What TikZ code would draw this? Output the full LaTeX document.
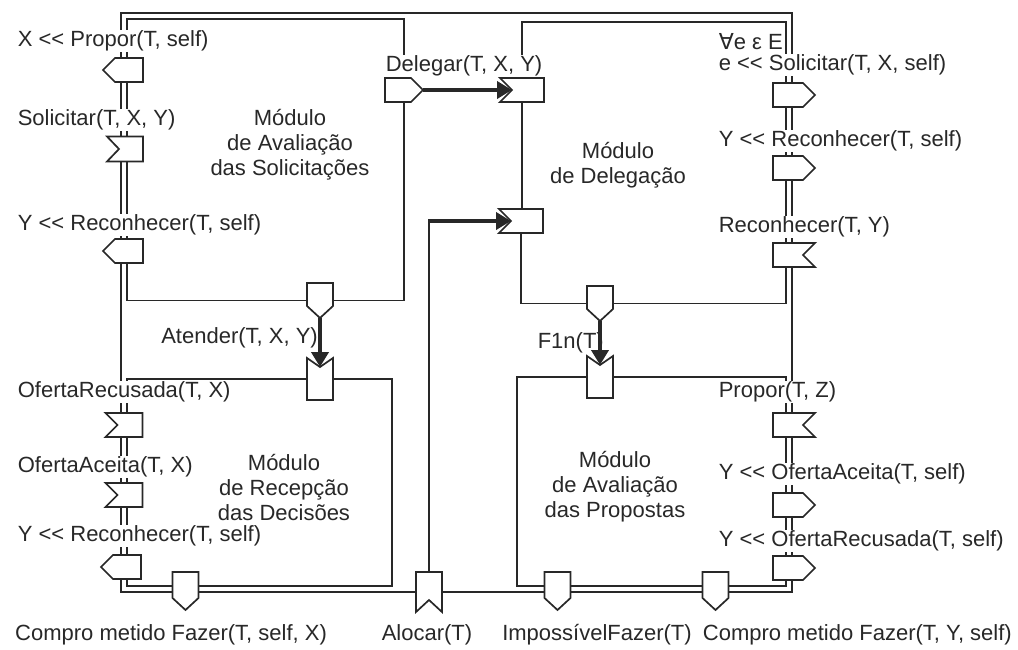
\documentclass[tikz,border=0pt]{standalone}
\usepackage{fontspec}
\setmainfont{Liberation Sans}[Ligatures=TeXOff]
\newfontfamily\symf{DejaVu Sans}
\usetikzlibrary{arrows.meta}
\pgfdeclarelayer{back}
\pgfdeclarelayer{bg}
\pgfsetlayers{back,bg,main}
\definecolor{ink}{RGB}{40,40,40}
\tikzset{
  nb/.style={inner sep=0pt,outer sep=0pt,draw=none},
  ln/.style={draw=ink,line width=1.4pt},
  shp/.style={draw=ink,fill=white,line width=1.7pt,line join=miter},
  thk/.style={draw=ink,line width=4.5pt,-{Triangle[length=15pt,width=17pt]}},
  lbl/.style={anchor=west,fill=white,inner sep=0.6pt,text=ink,font=\fontsize{22}{25}\selectfont},
  lblx/.style={text=ink,inner sep=0pt,font=\fontsize{22}{25}\selectfont},
  mod/.style={align=center,text=ink,inner sep=0pt,font=\fontsize{22}{25}\selectfont},
}
% send, pointing left
\newcommand\mySendL[4]{\node[nb,minimum width=#3pt,minimum height=#4pt] (#1) at (#2) {};
  \draw[shp] (#1.north east) -- ([xshift=12pt]#1.north west) -- (#1.west) -- ([xshift=12pt]#1.south west) -- (#1.south east) -- cycle;}
% send, pointing right
\newcommand\mySendR[4]{\node[nb,minimum width=#3pt,minimum height=#4pt] (#1) at (#2) {};
  \draw[shp] (#1.north west) -- ([xshift=-12pt]#1.north east) -- (#1.east) -- ([xshift=-12pt]#1.south east) -- (#1.south west) -- cycle;}
% receive, notch on the left
\newcommand\myRecvL[4]{\node[nb,minimum width=#3pt,minimum height=#4pt] (#1) at (#2) {};
  \draw[shp] (#1.north west) -- (#1.north east) -- (#1.south east) -- (#1.south west) -- ([xshift=12pt]#1.west) -- cycle;}
% receive, notch on the right
\newcommand\myRecvR[4]{\node[nb,minimum width=#3pt,minimum height=#4pt] (#1) at (#2) {};
  \draw[shp] (#1.north west) -- (#1.north east) -- ([xshift=-12pt]#1.east) -- (#1.south east) -- (#1.south west) -- cycle;}
% send, pointing down
\newcommand\mySendD[4]{\node[nb,minimum width=#3pt,minimum height=#4pt] (#1) at (#2) {};
  \draw[shp] (#1.north west) -- (#1.north east) -- ([yshift=12pt]#1.south east) -- (#1.south) -- ([yshift=12pt]#1.south west) -- cycle;}
% receive, notch on top
\newcommand\myRecvT[4]{\node[nb,minimum width=#3pt,minimum height=#4pt] (#1) at (#2) {};
  \draw[shp] (#1.north west) -- ([yshift=-9pt]#1.north) -- (#1.north east) -- (#1.south east) -- (#1.south west) -- cycle;}
% receive, notch at bottom
\newcommand\myRecvB[4]{\node[nb,minimum width=#3pt,minimum height=#4pt] (#1) at (#2) {};
  \draw[shp] (#1.north west) -- (#1.north east) -- (#1.south east) -- ([yshift=12pt]#1.south) -- (#1.south west) -- cycle;}

\begin{document}
\begin{tikzpicture}[x=1pt,y=-1pt]
\begin{pgfonlayer}{back}
\fill[white] (0,0) rectangle (1018,649);
\end{pgfonlayer}
\useasboundingbox (0,0) rectangle (1018,649);

\coordinate (LA) at (121,0); \coordinate (LB) at (127,0);
\coordinate (RA) at (786,0); \coordinate (RB) at (792,0);
\coordinate (topO) at (0,13); \coordinate (topI) at (0,19); \coordinate (topJ) at (0,22);
\coordinate (recX) at (392,0); \coordinate (propX) at (517,0);
\coordinate (bU) at (0,586); \coordinate (bL) at (0,592);

% left column
\mySendL{s1}{123,70}{40}{24}
\myRecvL{s2}{125,149}{36}{25}
\mySendL{s3}{123,251}{40}{24}
\myRecvL{s4}{124,425}{37}{24}
\myRecvL{s5}{124,495}{37}{24}
\mySendL{s6}{121,567}{40}{24}
% delegation
\mySendR{ds}{404,90}{38}{24}
\myRecvL{r1}{522,90}{44}{24}
\myRecvL{r2}{521,221}{44}{24}
% middle vertical shapes
\mySendD{as}{320,300.5}{26}{35}
\myRecvT{ar}{320,379}{26}{42}
\mySendD{fs}{600,303.5}{26}{35}
\myRecvT{fr}{600,377}{26}{42}
% bottom row
\mySendD{c1}{185.5,591}{26}{38}
\myRecvB{al}{429,592}{26}{40}
\mySendD{imf}{557.5,591}{26}{38}
\mySendD{c2}{715.5,591}{26}{38}
% right column
\mySendR{sr1}{794,95}{42}{24}
\mySendR{sr2}{794,168}{42}{24}
\myRecvR{sr3}{794,255}{42}{24}
\myRecvR{sr4}{794,425}{42}{24}
\mySendR{sr5}{794,505}{42}{24}
\mySendR{sr6}{794,568}{42}{24}

\coordinate (alc) at (al.north |- r2.west);

\begin{pgfonlayer}{bg}
\draw[ln] (s1.north -| LA) |- (topO -| RB) -- (sr1.north -| RB);
\draw[ln] (s1.north -| LB) |- (topI -| ds.north) -- (ds.north);
\draw[ln] (r1.north) |- (topJ -| RA) -- (sr1.north -| RA);
\draw[ln] (s1.south -| LA) -- (s2.north -| LA);
\draw[ln] (s1.south -| LB) -- (s2.north -| LB);
\draw[ln] (s2.south -| LA) -- (s3.north -| LA);
\draw[ln] (s2.south -| LB) -- (s3.north -| LB);
\draw[ln] (s3.south -| LA) -- (s4.north -| LA);
\draw[ln] (s3.south -| LB) |- (as.west);
\draw[ln] (as.east) -| (ds.south);
\draw[ln] (ar.west) -| (s4.north -| LB);
\draw[ln] (ar.east) -| (bU -| recX) -- (bU -| c1.east);
\draw[ln] (s4.south -| LA) -- (s5.north -| LA);
\draw[ln] (s4.south -| LB) -- (s5.north -| LB);
\draw[ln] (s5.south -| LA) -- (s6.north -| LA);
\draw[ln] (s5.south -| LB) -- (s6.north -| LB);
\draw[ln] (s6.south -| LB) |- (bU -| c1.west);
\draw[ln] (s6.south -| LA) |- (bL -| c1.west);
\draw[ln] (bL -| c1.east) -- (bL -| al.west);
\draw[ln] (bL -| al.east) -- (bL -| imf.west);
\draw[ln] (fr.west) -| (bU -| propX) -- (bU -| imf.west);
\draw[ln] (bU -| imf.east) -- (bU -| c2.west);
\draw[ln] (bL -| imf.east) -- (bL -| c2.west);
\draw[ln] (bU -| c2.east) -| (sr6.south -| RA);
\draw[ln] (bL -| c2.east) -| (sr6.south -| RB);
\draw[ln] (sr5.south -| RA) -- (sr6.north -| RA);
\draw[ln] (sr5.south -| RB) -- (sr6.north -| RB);
\draw[ln] (sr4.south -| RA) -- (sr5.north -| RA);
\draw[ln] (sr4.south -| RB) -- (sr5.north -| RB);
\draw[ln] (fr.east) -| (sr4.north -| RA);
\draw[ln] (sr3.south -| RB) -- (sr4.north -| RB);
\draw[ln] (sr3.south -| RA) |- (fs.east);
\draw[ln] (r1.south) -- (r2.north -| r1.south);
\draw[ln] (r2.south) |- (fs.west);
\draw[ln] (sr1.south -| RA) -- (sr2.north -| RA);
\draw[ln] (sr1.south -| RB) -- (sr2.north -| RB);
\draw[ln] (sr2.south -| RA) -- (sr3.north -| RA);
\draw[ln] (sr2.south -| RB) -- (sr3.north -| RB);
\draw[ln] (al.north) -- (alc);
\end{pgfonlayer}

% labels, left column
\node[lbl] (tPropor) at (17,41) {X << Propor(T, self)};
\node[lbl] (tSolic) at (17,120) {Solicitar(T, X, Y)};
\node[lbl] (tRecon) at (17,225) {Y << Reconhecer(T, self)};
\node[lbl] (tOfRec) at (17,392) {OfertaRecusada(T, X)};
\node[lbl] (tOfAc) at (17,467) {OfertaAceita(T, X)};
\node[lbl] (tRecon2) at (17,536) {Y << Reconhecer(T, self)};
% delegation
\node[lbl] (tDeleg) at (385,66) {Delegar(T, X, Y)};
\node[lblx,anchor=east] (tAtend) at (318,338) {Atender(T, X, Y)};
\node[lblx,anchor=east] (tFin) at (604,343) {F1n(T)};
% right column
\node[lbl] (tAll) at (718,42) {{\symf ∀}e ε E};
\node[lbl] (tESol) at (718,65) {e << Solicitar(T, X, self)};
\node[lbl] (tYRec) at (718,141) {Y << Reconhecer(T, self)};
\node[lbl] (tRec) at (718,227) {Reconhecer(T, Y)};
\node[lbl] (tProp) at (718,392) {Propor(T, Z)};
\node[lbl] (tYOfA) at (718,474) {Y << OfertaAceita(T, self)};
\node[lbl] (tYOfR) at (718,541) {Y << OfertaRecusada(T, self)};
% bottom
\node[lblx,anchor=west] (tC1) at (15,635) {Compro metido Fazer(T, self, X)};
\node[lblx] (tAl) at (427,635) {Alocar(T)};
\node[lblx] (tImp) at (597,635) {ImpossívelFazer(T)};
\node[lblx,anchor=east] (tC2) at (1012,635) {Compro metido Fazer(T, Y, self)};
% modules
\node[mod] (m1) at (290,145) {Módulo\\de Avaliação\\das Solicitações};
\node[mod] (m2) at (618,165) {Módulo\\de Delegação};
\node[mod] (m3) at (284,487) {Módulo\\de Recepção\\das Decisões};
\node[mod] (m4) at (615,487) {Módulo\\de Avaliação\\das Propostas};

% thick arrows
\draw[thk] (ds.east) -- ([xshift=12pt]r1.west);
\draw[thk] (as.south) -- ([yshift=-9pt]ar.north);
\draw[thk] (fs.south) -- ([yshift=-9pt]fr.north);
\draw[thk] ([xshift=-0.7pt]alc) -- ([xshift=12pt]r2.west);
\end{tikzpicture}
\end{document}
